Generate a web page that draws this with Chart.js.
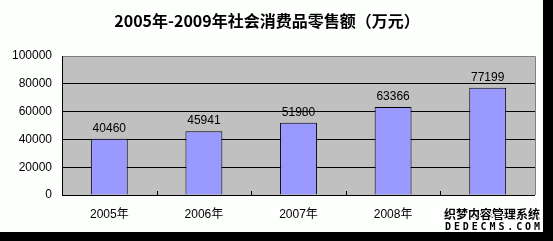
<!DOCTYPE html>
<html><head><meta charset="utf-8">
<script src="https://cdn.jsdelivr.net/npm/chart.js@4/dist/chart.umd.min.js"></script>
<style>
html,body{margin:0;padding:0;background:#000;width:553px;height:241px;overflow:hidden;}
#wrap{position:absolute;left:0;top:0;width:543px;height:232px;background:#fcfffc;}
canvas{display:block;}
</style></head>
<body><div id="wrap"><canvas id="c" width="543" height="232"></canvas></div>
<script>
const titleText = "2005年-2009年社会消费品零售额（万元）";
const categories = ["2005年","2006年","2007年","2008年","2009年"];
const values = [40460, 45941, 51980, 63366, 77199];
const yTicks = [0, 20000, 40000, 60000, 80000, 100000];
const watermark1 = "织梦内容管理系统";
const watermark2 = "DEDECMS.COM";

const decor = {
  id: 'decor',
  beforeDraw(chart) {
    const {ctx, chartArea: a} = chart;
    ctx.save();
    ctx.fillStyle = '#c0c0c0';
    ctx.fillRect(a.left, a.top, a.right - a.left, a.bottom - a.top);
    ctx.restore();
  },
  afterDraw(chart) {
    const {ctx, chartArea: a} = chart;
    const x = chart.scales.x;
    ctx.save();
    ctx.strokeStyle = '#808080'; ctx.lineWidth = 1;
    ctx.beginPath();
    ctx.moveTo(a.left, Math.round(a.top) + 0.5); ctx.lineTo(Math.round(a.right) + 0.5, Math.round(a.top) + 0.5);
    ctx.lineTo(Math.round(a.right) + 0.5, Math.round(a.bottom));
    ctx.stroke();
    ctx.strokeStyle = '#000';
    ctx.beginPath();
    ctx.moveTo(Math.round(a.left) + 0.5, a.top); ctx.lineTo(Math.round(a.left) + 0.5, Math.round(a.bottom) + 0.5);
    ctx.lineTo(a.right, Math.round(a.bottom) + 0.5);
    ctx.stroke();
    ctx.beginPath();
    for (let i = 1; i < categories.length; i++) {
      const px = Math.round((x.getPixelForValue(i - 1) + x.getPixelForValue(i)) / 2) + 0.5;
      ctx.moveTo(px, a.bottom); ctx.lineTo(px, a.bottom - 4);
    }
    ctx.stroke();
    ctx.fillStyle = '#000';
    ctx.font = '12px "Liberation Sans", Arial, sans-serif';
    ctx.textAlign = 'center'; ctx.textBaseline = 'middle';
    const meta = chart.getDatasetMeta(0);
    meta.data.forEach((bar, i) => {
      ctx.fillText(String(values[i]), bar.x, bar.y - 10);
    });
    ctx.font = 'bold 16px "Noto Sans CJK SC", sans-serif';
    ctx.fillText(titleText, 267, 21);
    ctx.font = 'bold 12px "Noto Sans CJK SC", sans-serif';
    ctx.textAlign = 'left';
    ctx.lineWidth = 2; ctx.strokeStyle = '#fff';
    watermark1.split('').forEach((ch, i) => {
      const px = 444 + i * 12;
      ctx.strokeText(ch, px, 214);
      ctx.fillText(ch, px, 214);
    });
    ctx.font = 'bold 10px "DejaVu Sans Mono", monospace';
    ctx.textAlign = 'center';
    watermark2.split('').forEach((ch, i) => {
      const px = 448 + i * 8.9;
      ctx.strokeText(ch, px, 227);
      ctx.fillText(ch, px, 227);
    });
    ctx.restore();
  }
};

new Chart(document.getElementById('c'), {
  type: 'bar',
  data: {
    labels: categories,
    datasets: [{
      data: values,
      backgroundColor: '#9999ff',
      borderColor: '#000',
      borderWidth: 1,
      borderSkipped: 'bottom',
      barPercentage: 0.39,
      categoryPercentage: 1.0
    }]
  },
  options: {
    responsive: false,
    animation: false,
    events: [],
    layout: {padding: {left: 0, right: 8, top: 56, bottom: 0}},
    plugins: {legend: {display: false}, title: {display: false}, tooltip: {enabled: false}},
    scales: {
      x: {
        grid: {display: false, drawTicks: false},
        border: {display: false},
        ticks: {color: '#000', font: {size: 12, family: '"Liberation Sans", Arial, "Noto Sans CJK SC", sans-serif'}, padding: 12},
        afterFit(s) { s.height = 37; }
      },
      y: {
        min: 0, max: 100000,
        afterBuildTicks(s) { s.ticks = yTicks.map(v => ({value: v})); },
        grid: {color: ctx => (ctx.tick && ctx.tick.value === 100000) ? '#808080' : '#000', drawTicks: false, lineWidth: 1},
        border: {display: false},
        ticks: {color: '#000', font: {size: 12, family: '"Liberation Sans", Arial, sans-serif'}, padding: 10,
          callback: v => String(v)},
        afterFit(s) { s.width = 62; }
      }
    }
  },
  plugins: [decor]
});
</script>
</body></html>
